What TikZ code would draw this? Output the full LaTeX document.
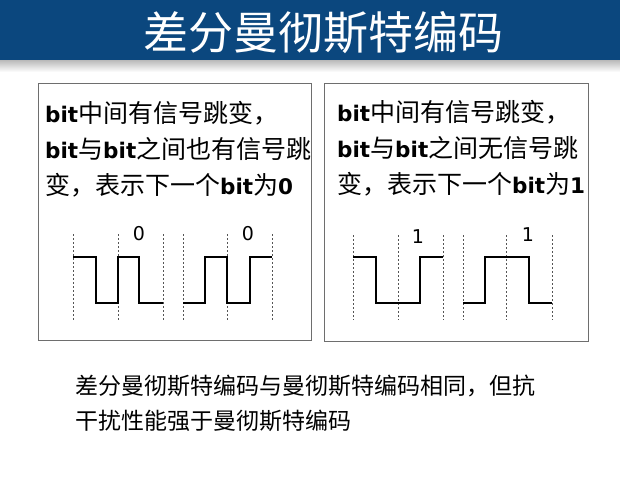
\documentclass[tikz,border=0pt]{standalone}
\usepackage{fontspec}
\setmainfont{Noto Sans CJK SC}
\newfontfamily\latinfont{DejaVu Sans}
\usetikzlibrary{positioning, calc}
\definecolor{titlebar}{HTML}{0B477E}
\definecolor{boxline}{HTML}{6E6E6E}
\definecolor{gridline}{HTML}{555555}
\newcommand{\bt}[1]{{\latinfont\bfseries\fontsize{21.5}{21.5}\selectfont #1}}

\tikzset{
  caseline/.style={anchor=base west, inner sep=0pt, font=\fontsize{25}{25}\selectfont},
  notebox/.style={draw=boxline, line width=0.8pt},
  slotline/.style={draw=gridline, dashed, dash pattern=on 2pt off 2pt, line width=0.6pt},
  signal/.style={draw=black, line width=1.3pt},
  bitlabel/.style={inner sep=0pt, font=\latinfont\fontsize{19}{19}\selectfont}
}

\begin{document}
\begin{tikzpicture}[x=1pt, y=-1pt]
  \useasboundingbox (0,0) rectangle (620,482);
  \fill[white] (0,0) rectangle (620,482);

  % title bar
  \fill[titlebar] (0,0) rectangle (620,60);
  \shade[top color=gray!55, bottom color=white] (0,60) rectangle (620,72);
  \node[text=white, inner sep=0pt, anchor=base,
        font=\fontsize{45}{45}\selectfont] (title) at (323,49)
    {差分曼彻斯特编码};

  % the two cases
  \draw[notebox] (38,83) rectangle (311,340);
  \draw[notebox] (324,83) rectangle (588,341);

  \node[caseline] (left1) at (45,122) {\bt{bit}中间有信号跳变，};
  \node[caseline] (left2) at (45,158) {\bt{bit}与\bt{bit}之间也有信号跳};
  \node[caseline] (left3) at (45,194) {变，表示下一个\bt{bit}为\bt{0}};

  \node[caseline] (right1) at (337,121) {\bt{bit}中间有信号跳变，};
  \node[caseline] (right2) at (337,157) {\bt{bit}与\bt{bit}之间无信号跳};
  \node[caseline] (right3) at (337,193) {变，表示下一个\bt{bit}为\bt{1}};

  % bit slots
  \foreach \x in {73,118,163,183,227,272}
    \draw[slotline] (\x,234) -- (\x,320);
  \foreach \x in {353,398,443,463,506,552}
    \draw[slotline] (\x,235) -- (\x,320);

  % waveforms, high = 257, low = 303
  \draw[signal] (73,257) -- (96,257) -- (96,303) -- (118,303) -- (118,257)
    -- (139,257) -- (139,303) -- (163,303);
  \draw[signal] (183,303) -- (205,303) -- (205,257) -- (227,257) -- (227,303)
    -- (250,303) -- (250,257) -- (272,257);
  \draw[signal] (353,257) -- (376,257) -- (376,303) -- (420,303) -- (420,257)
    -- (443,257);
  \draw[signal] (463,303) -- (485,303) -- (485,257) -- (529,257) -- (529,303)
    -- (552,303);

  \node[bitlabel] (zeroa) at (139,234) {0};
  \node[bitlabel] (zerob) at (248,234) {0};
  \node[bitlabel] (onea) at (418,237) {1};
  \node[bitlabel] (oneb) at (528,235) {1};

  % summary
  \node[anchor=base west, inner sep=0pt, font=\fontsize{23}{23}\selectfont]
    (sum1) at (75,394) {差分曼彻斯特编码与曼彻斯特编码相同，但抗};
  \node[anchor=base west, inner sep=0pt, font=\fontsize{23}{23}\selectfont]
    (sum2) at (75,429) {干扰性能强于曼彻斯特编码};
\end{tikzpicture}
\end{document}
